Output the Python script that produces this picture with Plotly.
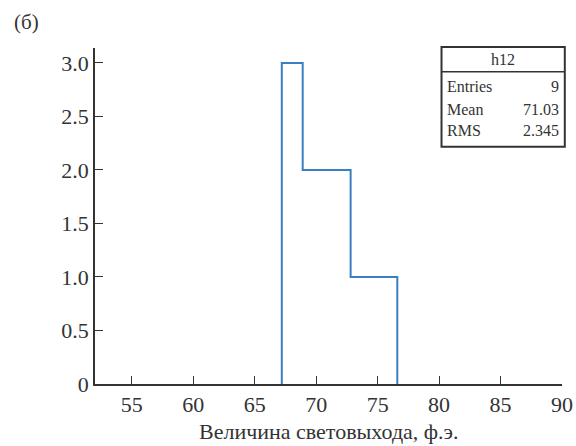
import plotly.graph_objects as go

# Data
bin_edges = [67.2, 68.9, 72.8, 76.6]
counts = [3, 2, 1]
x_ticks = [55, 60, 65, 70, 75, 80, 85, 90]
y_ticks = [0, 0.5, 1.0, 1.5, 2.0, 2.5, 3.0]
y_tick_text = ["0", "0.5", "1.0", "1.5", "2.0", "2.5", "3.0"]
stats_names = ["Entries", "Mean", "RMS"]
stats_values = ["9", "71.03", "2.345"]
hist_name = "h12"
x_title = "Величина световыхода, ф.э."
panel_label = "(б)"

# Build step outline from edges/counts
xs = [bin_edges[0]] + bin_edges[:-1] + [bin_edges[-1]]
ys = [0] + counts + [0]

FONT = "Liberation Serif"
TXT = "#333333"

fig = go.Figure()
fig.add_trace(go.Scatter(x=xs, y=ys, mode="lines", line=dict(color="#3a7fc1", width=2, shape="hv"),
                         showlegend=False, hoverinfo="skip"))

fig.update_layout(
    width=576, height=446,
    margin=dict(l=95, r=14, t=48, b=62, autoexpand=False),
    paper_bgcolor="white", plot_bgcolor="white",
    font=dict(family=FONT, size=22, color=TXT),
    xaxis=dict(range=[52, 90], tickvals=x_ticks, ticks="inside", ticklen=8, tickwidth=1.3,
               tickcolor=TXT, showline=True, linecolor=TXT, linewidth=1.5,
               showgrid=False, zeroline=False, automargin=False,
               tickfont=dict(family=FONT, size=22)),
    yaxis=dict(range=[0, 3.14], tickvals=y_ticks, ticktext=y_tick_text, ticks="inside", ticklen=8,
               tickwidth=1.3, tickcolor=TXT, showline=True, linecolor=TXT, linewidth=1.5,
               showgrid=False, zeroline=False, automargin=False, tickfont=dict(family=FONT, size=22)),
)

# X axis title (as annotation to control position)
fig.add_annotation(xref="paper", yref="paper", x=0.5, y=-0.141, text=x_title, showarrow=False,
                   font=dict(family=FONT, size=22, color=TXT), xanchor="center", yanchor="middle")

# Stats box
x0, x1, ytop, ybot, ydiv = 0.742, 1.006, 1.003, 0.706, 0.929
fig.add_shape(type="rect", xref="paper", yref="paper", x0=x0, x1=x1, y0=ybot, y1=ytop,
              line=dict(color=TXT, width=2), fillcolor="white")
fig.add_shape(type="line", xref="paper", yref="paper", x0=x0, x1=x1, y0=ydiv, y1=ydiv,
              line=dict(color=TXT, width=1.5))
fig.add_annotation(xref="paper", yref="paper", x=(x0 + x1) / 2, y=(ytop + ydiv) / 2, text=hist_name,
                   showarrow=False, font=dict(family=FONT, size=16, color=TXT),
                   xanchor="center", yanchor="middle")
row_y = [0.886, 0.817, 0.754]
for name, val, yy in zip(stats_names, stats_values, row_y):
    fig.add_annotation(xref="paper", yref="paper", x=x0 + 0.008, y=yy, text=name, showarrow=False,
                       font=dict(family=FONT, size=16, color=TXT), xanchor="left", yanchor="middle")
    fig.add_annotation(xref="paper", yref="paper", x=x1 - 0.008, y=yy, text=val, showarrow=False,
                       font=dict(family=FONT, size=16, color=TXT), xanchor="right", yanchor="middle")

fig.add_annotation(xref="paper", yref="paper", x=-0.178, y=1.077, text=panel_label, showarrow=False,
                   font=dict(family=FONT, size=21, color=TXT), xanchor="left", yanchor="middle")

fig.write_html("out.html")
